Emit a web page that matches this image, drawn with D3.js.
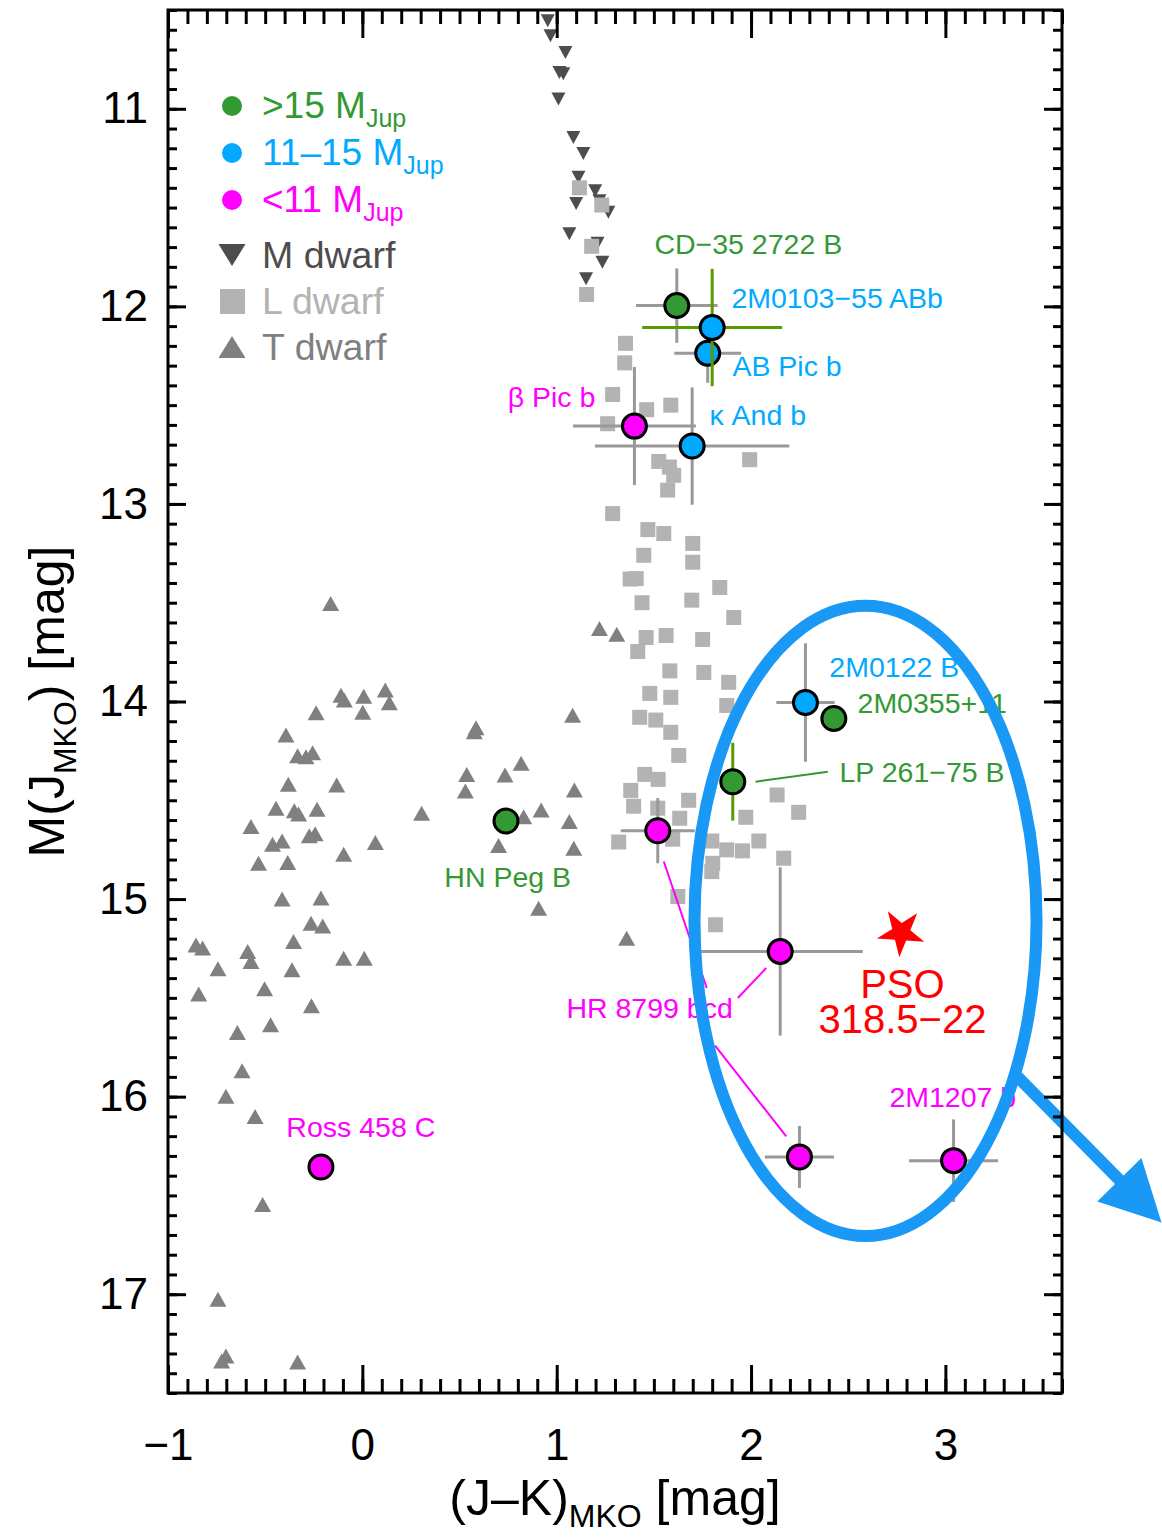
<!DOCTYPE html>
<html><head><meta charset="utf-8">
<script src="https://cdn.jsdelivr.net/npm/d3@7"></script>
<style>
body{margin:0;background:#fff}
svg{display:block}
text{font-family:"Liberation Sans",Arial,Helvetica,sans-serif}
</style>
</head><body>
<svg id="chart" width="1162" height="1537"></svg>
<script>
// ---------------- DATA ----------------
const mDwarfs = [[0.954,10.555],[0.968,10.63],[1.045,10.715],[1.014,10.816],[1.034,10.823],[1.009,10.95],[1.086,11.145],[1.137,11.226],[1.112,11.347],[1.198,11.415],[1.100,11.48],[1.266,11.524],[1.22,11.465],[1.065,11.632],[1.21,11.68],[1.235,11.777],[1.151,11.86]];

const lDwarfs = [[1.117,11.40],[1.232,11.487],[1.180,11.696],[1.154,11.94],[1.354,12.187],[1.35,12.286],[1.288,12.446],[1.463,12.523],[1.587,12.50],[1.262,12.594],[1.525,12.785],[1.58,12.813],[1.602,12.855],[1.571,12.93],[1.993,12.776],[1.288,13.049],
[1.469,13.13],[1.551,13.15],[1.70,13.20],[1.448,13.26],[1.70,13.295],[1.378,13.38],[1.409,13.378],[1.839,13.423],[1.439,13.50],[1.695,13.487],[1.911,13.575],[1.46,13.676],[1.563,13.666],[1.417,13.747],[1.751,13.686],[1.582,13.845],[1.757,13.853],[1.885,13.903],[1.479,13.959],[1.587,13.979],[1.875,14.02],[1.427,14.08],[1.51,14.094],[1.587,14.156],[1.628,14.273],[1.453,14.369],[1.522,14.394],[1.381,14.45],[1.396,14.53],[1.679,14.50],[1.52,14.54],[1.633,14.591],[1.319,14.711],[1.597,14.697],[1.798,14.706],[1.875,14.751],[1.956,14.756],[2.04,14.706],[1.973,14.586],[2.134,14.473],[2.245,14.561],[2.168,14.793],[1.803,14.819],[1.798,14.861],[1.623,14.987],[1.817,15.13]];

const tDwarfs = [[-0.163,13.504],[1.22,13.63],[1.309,13.66],[-0.11,13.968],[-0.093,13.993],[0.007,13.973],[0.118,13.942],[0.139,14.006],[0.002,14.055],[-0.238,14.057],[-0.393,14.17],[-0.333,14.275],[-0.29,14.28],[-0.256,14.259],[-0.381,14.419],[-0.132,14.423],[-0.444,14.54],[-0.35,14.553],[-0.328,14.57],[-0.233,14.546],[-0.573,14.633],[-0.462,14.723],[-0.413,14.706],[-0.273,14.68],[-0.243,14.67],[-0.096,14.773],[0.067,14.714],[-0.534,14.819],[-0.384,14.815],[0.305,14.566],[0.585,14.133],[0.576,14.153],[1.082,14.069],[0.537,14.369],[0.53,14.453],[0.734,14.372],[0.817,14.313],[1.091,14.448],[0.830,14.583],[0.92,14.549],[1.065,14.608],[1.088,14.743],[0.701,14.729],[0.907,15.046],[-0.413,15.0],[-0.213,14.995],[-0.264,15.122],[-0.204,15.136],[-0.856,15.232],[-0.822,15.248],[-0.59,15.265],[-0.573,15.316],[-0.354,15.215],[-0.743,15.353],[-0.362,15.358],[-0.096,15.299],[0.010,15.299],[-0.842,15.481],[-0.503,15.454],[-0.262,15.54],[-0.643,15.675],[-0.472,15.636],[-0.619,15.869],[-0.702,15.998],[-0.552,16.1],[-0.513,16.546],[-0.743,17.026],[-0.702,17.313],[-0.724,17.338],[-0.333,17.343],[1.36,15.198]];

// young companions: name, J-K, M_J, errors, mass class
const companions = [
  {name:"CD−35 2722 B",  jk:1.618, mj:11.996, ejk:0.21,  emj:0.188, mass:"high"},
  {name:"AB Pic b",      jk:1.777, mj:12.237, ejk:0.172, emj:0.15,  mass:"mid"},
  {name:"2M0103−55 ABb", jk:1.80,  mj:12.107, ejk:0.36,  emj:0.297, mass:"mid"},
  {name:"β Pic b",       jk:1.40,  mj:12.606, ejk:0.316, emj:0.299, mass:"low"},
  {name:"κ And b",       jk:1.697, mj:12.707, ejk:0.50,  emj:0.297, mass:"mid"},
  {name:"2M0122 B",      jk:2.28,  mj:14.005, ejk:0.15,  emj:0.30,  mass:"mid"},
  {name:"2M0355+11",     jk:2.426, mj:14.086, ejk:0,     emj:0,     mass:"high"},
  {name:"LP 261−75 B",   jk:1.906, mj:14.406, ejk:0,     emj:0.197, mass:"high"},
  {name:"HN Peg B",      jk:0.739, mj:14.605, ejk:0,     emj:0,     mass:"high"},
  {name:"HR 8799 b",     jk:1.52,  mj:14.654, ejk:0.19,  emj:0.165, mass:"low"},
  {name:"HR 8799 c",     jk:2.15,  mj:15.265, ejk:0.425, emj:0.426, mass:"low"},
  {name:"HR 8799 d",     jk:2.249, mj:16.305, ejk:0.178, emj:0.157, mass:"low"},
  {name:"2M1207 b",      jk:3.042, mj:16.324, ejk:0.229, emj:0.209, mass:"low"},
  {name:"Ross 458 C",    jk:-0.213,mj:16.356, ejk:0,     emj:0,     mass:"low"}
];
const greenErrNames = ["2M0103−55 ABb","LP 261−75 B"];

const pso = {jk:2.772, mj:15.169};

const xTicks = [-1,0,1,2,3];
const yTicks = [11,12,13,14,15,16,17];

// labels (data-space anchors)
const labels = [
  {t:"CD−35 2722 B", x:1.503, y:11.733, c:"high", a:"start"},
  {t:"2M0103−55 ABb", x:1.899, y:12.006, c:"mid", a:"start"},
  {t:"AB Pic b", x:1.904, y:12.35, c:"mid", a:"start"},
  {t:"β Pic b", x:1.199, y:12.507, c:"low", a:"end"},
  {t:"κ And b", x:1.786, y:12.603, c:"mid", a:"start"},
  {t:"2M0122 B", x:2.403, y:13.877, c:"mid", a:"start"},
  {t:"2M0355+11", x:2.548, y:14.059, c:"high", a:"start"},
  {t:"LP 261−75 B", x:2.455, y:14.408, c:"high", a:"start"},
  {t:"HN Peg B", x:0.422, y:14.938, c:"high", a:"start"},
  {t:"HR 8799 bcd", x:1.05, y:15.601, c:"low", a:"start"},
  {t:"2M1207 b", x:2.712, y:16.051, c:"low", a:"start"},
  {t:"Ross 458 C", x:-0.391, y:16.202, c:"low", a:"start"}
];
const leaders = [
  {c:"high", x1:2.023, y1:14.406, x2:2.395, y2:14.355},
  {c:"low",  x1:1.551, y1:14.81,  x2:1.772, y2:15.45},
  {c:"low",  x1:1.815, y1:15.742, x2:2.181, y2:16.201},
  {c:"low",  x1:2.078, y1:15.349, x2:1.932, y2:15.501}
];
const psoLabel = {x:2.779, y1:15.5, y2:15.677, lines:["PSO","318.5−22"]};
const ellipseSpec = {cx:2.589, cy:15.11, rx:0.88, ry:1.595};
const arrowSpec = {x1:3.371, y1:15.899, x2:4.112, y2:16.637};

// ---------------- STYLE ----------------
const massColor = {high:"#339933", mid:"#00a8ff", low:"#ff00ff"};
const labelColor = {high:"#339933", mid:"#00aaff", low:"#ff00ff"};
const FONT = '"Liberation Sans",Arial,Helvetica,sans-serif';

const svg = d3.select("#chart");
const L=168, R=1062, T=10, B=1393;
const x = d3.scaleLinear().domain([-1,3.6]).range([L,R]);
const y = d3.scaleLinear().domain([10.5,17.5]).range([T,B]);

const g = svg.append("g");
svg.append("clipPath").attr("id","pc").append("rect")
  .attr("x",L).attr("y",T).attr("width",R-L).attr("height",B-T);
const pg = g.append("g").attr("clip-path","url(#pc)");

function triPath(w,h,down){
  const hw=w/2, hh=h/2;
  return down ? `M${-hw},${-hh}L${hw},${-hh}L0,${hh}Z` : `M${-hw},${hh}L${hw},${hh}L0,${-hh}Z`;
}

// M dwarfs
pg.append("g").selectAll("path").data(mDwarfs).join("path")
  .attr("d",triPath(14,13,true)).attr("fill","#4d4d4d")
  .attr("transform",d=>`translate(${x(d[0])},${y(d[1])})`);
// L dwarfs
pg.append("g").selectAll("rect").data(lDwarfs).join("rect")
  .attr("x",d=>x(d[0])-7.5).attr("y",d=>y(d[1])-7.5).attr("width",15).attr("height",15)
  .attr("fill","#b3b3b3");
// T dwarfs
pg.append("g").selectAll("path").data(tDwarfs).join("path")
  .attr("d",triPath(17,15,false)).attr("fill","#808080")
  .attr("transform",d=>`translate(${x(d[0])},${y(d[1])})`);

// leader lines
g.append("g").selectAll("line").data(leaders).join("line")
  .attr("x1",d=>x(d.x1)).attr("y1",d=>y(d.y1)).attr("x2",d=>x(d.x2)).attr("y2",d=>y(d.y2))
  .attr("stroke",d=>labelColor[d.c]).attr("stroke-width",2);

// companions with error bars
const cg = g.append("g");
companions.forEach(d=>{
  const ec = greenErrNames.includes(d.name) ? "#5a9900" : "#999999";
  if (d.ejk>0) cg.append("line").attr("x1",x(d.jk-d.ejk)).attr("x2",x(d.jk+d.ejk))
     .attr("y1",y(d.mj)).attr("y2",y(d.mj)).attr("stroke",ec).attr("stroke-width",3);
  if (d.emj>0) cg.append("line").attr("x1",x(d.jk)).attr("x2",x(d.jk))
     .attr("y1",y(d.mj-d.emj)).attr("y2",y(d.mj+d.emj)).attr("stroke",ec).attr("stroke-width",3);
  cg.append("circle").attr("cx",x(d.jk)).attr("cy",y(d.mj)).attr("r",12)
    .attr("fill",massColor[d.mass]).attr("stroke","#000").attr("stroke-width",3);
});

// labels
g.append("g").selectAll("text").data(labels).join("text")
  .attr("x",d=>x(d.x)).attr("y",d=>y(d.y)).attr("text-anchor",d=>d.a)
  .attr("fill",d=>labelColor[d.c]).attr("font-size",28.5).text(d=>d.t);

// PSO star and label
g.append("path").attr("d",d3.symbol(d3.symbolStar,700)())
  .attr("transform",`translate(${x(pso.jk)},${y(pso.mj)}) rotate(40)`).attr("fill","#ff0000");
{
  const pt = g.append("text").attr("text-anchor","middle").attr("fill","#ff0000").attr("font-size",40);
  pt.append("tspan").attr("x",x(psoLabel.x)).attr("y",y(psoLabel.y1)).text(psoLabel.lines[0]);
  pt.append("tspan").attr("x",x(psoLabel.x)).attr("y",y(psoLabel.y2)).text(psoLabel.lines[1]);
}

// ellipse + arrow
const eblue = "#1a98f5";
g.append("ellipse").attr("cx",x(ellipseSpec.cx)).attr("cy",y(ellipseSpec.cy))
  .attr("rx",x(ellipseSpec.cx+ellipseSpec.rx)-x(ellipseSpec.cx))
  .attr("ry",y(ellipseSpec.cy+ellipseSpec.ry)-y(ellipseSpec.cy))
  .attr("fill","none").attr("stroke",eblue).attr("stroke-width",12);
{
  const ax1=x(arrowSpec.x1), ay1=y(arrowSpec.y1), ax2=x(arrowSpec.x2), ay2=y(arrowSpec.y2);
  const ang=Math.atan2(ay2-ay1, ax2-ax1), len=Math.hypot(ax2-ax1, ay2-ay1);
  const ag = g.append("g").attr("transform",`translate(${ax1},${ay1}) rotate(${ang*180/Math.PI})`);
  ag.append("line").attr("x1",0).attr("y1",0).attr("x2",len-50).attr("y2",0)
    .attr("stroke",eblue).attr("stroke-width",12);
  ag.append("path").attr("d",`M${len},0L${len-60},${-31}L${len-60},${31}Z`).attr("fill",eblue);
}

// ---------------- AXES ----------------
const ax = g.append("g");
const minorX = d3.range(-1,3.6001,0.1).map(v=>+v.toFixed(2));
const minorY = d3.range(10.5,17.5001,0.1).map(v=>+v.toFixed(2));
function styleAxis(sel){
  sel.select(".domain").remove();
  sel.selectAll("line").attr("stroke","#000").attr("stroke-width",3);
  sel.selectAll("text").attr("font-family",FONT).attr("font-size",44).attr("fill","#000");
}
ax.append("g").attr("transform",`translate(0,${B})`)
  .call(d3.axisBottom(x).tickValues(minorX).tickSize(-14).tickFormat("")).call(styleAxis);
ax.append("g").attr("transform",`translate(0,${B})`)
  .call(d3.axisBottom(x).tickValues(xTicks).tickSize(-28).tickPadding(36).tickFormat(d3.format("d"))).call(styleAxis);
ax.append("g").attr("transform",`translate(0,${T})`)
  .call(d3.axisTop(x).tickValues(minorX).tickSize(-14).tickFormat("")).call(styleAxis);
ax.append("g").attr("transform",`translate(0,${T})`)
  .call(d3.axisTop(x).tickValues(xTicks).tickSize(-28).tickFormat("")).call(styleAxis);
ax.append("g").attr("transform",`translate(${L},0)`)
  .call(d3.axisLeft(y).tickValues(minorY).tickSize(-9).tickFormat("")).call(styleAxis);
ax.append("g").attr("transform",`translate(${L},0)`)
  .call(d3.axisLeft(y).tickValues(yTicks).tickSize(-18).tickPadding(20).tickFormat(d3.format("d"))).call(styleAxis);
ax.append("g").attr("transform",`translate(${R},0)`)
  .call(d3.axisRight(y).tickValues(minorY).tickSize(-9).tickFormat("")).call(styleAxis);
ax.append("g").attr("transform",`translate(${R},0)`)
  .call(d3.axisRight(y).tickValues(yTicks).tickSize(-18).tickFormat("")).call(styleAxis);
ax.append("rect").attr("x",L).attr("y",T).attr("width",R-L).attr("height",B-T)
  .attr("fill","none").attr("stroke","#000").attr("stroke-width",3);

// axis titles
const xt = g.append("text").attr("x",(L+R)/2).attr("y",1515).attr("text-anchor","middle")
  .attr("font-size",50).attr("fill","#000");
xt.append("tspan").text("(J–K)");
xt.append("tspan").attr("font-size",32).attr("dy",12).text("MKO");
xt.append("tspan").attr("dy",-12).text(" [mag]");

const yt = g.append("text").attr("transform",`translate(64,${(T+B)/2}) rotate(-90)`)
  .attr("text-anchor","middle").attr("font-size",50).attr("fill","#000");
yt.append("tspan").text("M(J");
yt.append("tspan").attr("font-size",32).attr("dy",12).text("MKO");
yt.append("tspan").attr("dy",-12).text(") [mag]");

// ---------------- LEGEND ----------------
const legMass = [
  {k:"high", t:">15 M"},
  {k:"mid",  t:"11–15 M"},
  {k:"low",  t:"<11 M"}
];
const legSpec = [
  {t:"M dwarf", c:"#4d4d4d", shape:"down"},
  {t:"L dwarf", c:"#b3b3b3", shape:"square"},
  {t:"T dwarf", c:"#808080", shape:"up"}
];
const lg = g.append("g");
legMass.forEach((d,i)=>{
  const cy = 106 + i*47;
  lg.append("circle").attr("cx",232).attr("cy",cy).attr("r",10).attr("fill",massColor[d.k]);
  const t = lg.append("text").attr("x",262).attr("y",cy+12).attr("font-size",37).attr("fill",labelColor[d.k]);
  t.append("tspan").text(d.t);
  t.append("tspan").attr("font-size",25).attr("dy",9).text("Jup");
});
legSpec.forEach((d,i)=>{
  const cy = 255 + i*46;
  if (d.shape==="square") lg.append("rect").attr("x",220).attr("y",cy-12).attr("width",25).attr("height",25).attr("fill",d.c);
  else lg.append("path").attr("d",triPath(27,22,d.shape==="down")).attr("fill",d.c)
        .attr("transform",`translate(232,${cy})`);
  lg.append("text").attr("x",262).attr("y",cy+13).attr("font-size",37.5).attr("fill",d.c).text(d.t);
});
</script>
</body></html>
